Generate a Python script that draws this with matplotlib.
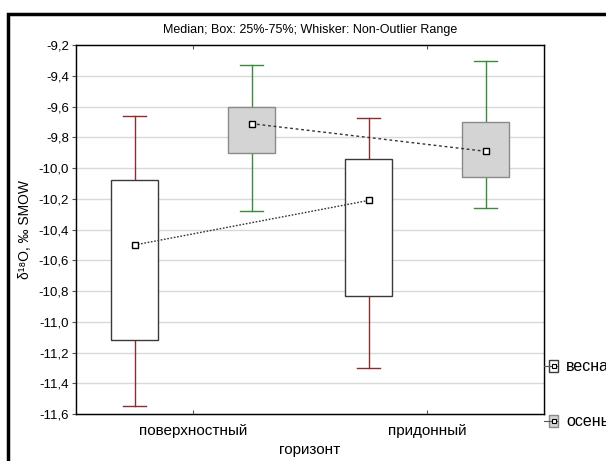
import matplotlib
matplotlib.use("Agg")
import matplotlib.pyplot as plt
from matplotlib.patches import Rectangle
from matplotlib.lines import Line2D
from matplotlib.ticker import FuncFormatter
import numpy as np

plt.rcParams['font.family'] = ['Liberation Sans', 'DejaVu Sans']

# data (δ18O, ‰ SMOW)
categories = ["поверхностный", "придонный"]
series = ["весна", "осень"]
spring_median = [-10.50, -10.21]
spring_q1 = [-11.12, -10.83]
spring_q3 = [-10.08, -9.94]
spring_low = [-11.55, -11.30]
spring_high = [-9.66, -9.675]
autumn_median = [-9.71, -9.89]
autumn_q1 = [-9.90, -10.06]
autumn_q3 = [-9.60, -9.70]
autumn_low = [-10.28, -10.26]
autumn_high = [-9.33, -9.30]

styles = {
    "весна": dict(face="white", edge="#3a3a3a", whisk="#8a2e2e", ls=(0, (1.2, 1.2)), off=-0.25),
    "осень": dict(face="#d4d4d4", edge="#8a8a8a", whisk="#3c8a3c", ls=(0, (2, 2)), off=0.25),
}
stats = {
    "весна": (spring_median, spring_q1, spring_q3, spring_low, spring_high),
    "осень": (autumn_median, autumn_q1, autumn_q3, autumn_low, autumn_high),
}

fig = plt.figure(figsize=(6.06, 4.61), dpi=100)
ax = fig.add_axes([76 / 606, 1 - 414 / 461, (544 - 76) / 606, (414 - 45.3) / 461])

box_w = 0.2
cap_w = 0.1
xpos = np.arange(1, len(categories) + 1)

for name in series:
    st = styles[name]
    med, q1, q3, lo, hi = stats[name]
    xs = xpos + st["off"]
    for x, m, a, b, l, h in zip(xs, med, q1, q3, lo, hi):
        ax.plot([x, x], [b, h], color=st["whisk"], lw=1, zorder=2)
        ax.plot([x, x], [l, a], color=st["whisk"], lw=1, zorder=2)
        ax.plot([x - cap_w / 2, x + cap_w / 2], [h, h], color=st["whisk"], lw=1, zorder=2)
        ax.plot([x - cap_w / 2, x + cap_w / 2], [l, l], color=st["whisk"], lw=1, zorder=2)
        ax.add_patch(Rectangle((x - box_w / 2, a), box_w, b - a, facecolor=st["face"],
                               edgecolor=st["edge"], lw=1, zorder=3))
    ax.plot(xs, med, color="#333333", lw=1, ls=st["ls"], zorder=4)
    ax.plot(xs, med, ls="none", marker="s", ms=5, mfc="white", mec="black", mew=1, zorder=5)

ax.set_xlim(0.5, 2.5)
ax.set_ylim(-11.6, -9.2)
yt = np.arange(-11.6, -9.19, 0.2)
ax.set_yticks(yt)
ax.yaxis.set_major_formatter(FuncFormatter(lambda v, p: f"{v:.1f}".replace(".", ",")))
ax.set_xticks(xpos)
ax.set_xticklabels(categories, fontsize=11)
ax.tick_params(axis="y", direction="out", length=3, labelsize=9.5, pad=2, color="#555555")
ax.tick_params(axis="x", direction="in", length=3, top=True, pad=7, color="#555555")
ax.grid(axis="y", color="#d9d9d9", lw=1)
ax.set_axisbelow(True)
for s in ax.spines.values():
    s.set_color("black")
    s.set_linewidth(1)

# right axis with inward ticks (13 divisions, no labels)
ax2 = ax.twinx()
ax2.set_ylim(0, 13)
ax2.set_yticks(np.arange(1, 13))
ax2.tick_params(axis="y", direction="in", length=3, labelright=False, color="#555555")
ax2.set_zorder(-1)

ax.set_ylabel("δ¹⁸O, ‰ SMOW", fontsize=10, labelpad=5)
ax.set_xlabel("горизонт", fontsize=11, labelpad=4)
fig.text(310 / 606, 1 - 30 / 461, "Median; Box: 25%-75%; Whisker: Non-Outlier Range",
         ha="center", va="center", fontsize=9)

# legend at the right edge, clipped by the figure edge as in the reference
for name, yy in zip(series, [366, 421]):
    st = styles[name]
    fig.add_artist(Line2D([544 / 606, 557 / 606], [1 - yy / 461] * 2, color="#555555", lw=0.8))
    fig.add_artist(Rectangle((549 / 606, 1 - (yy + 6) / 461), 9 / 606, 12 / 461,
                             facecolor=st["face"], edgecolor=st["edge"], lw=1))
    fig.add_artist(Line2D([553.5 / 606], [1 - yy / 461], marker="s", ms=3.5,
                          mfc="white", mec="black", mew=0.8))
    fig.text(566 / 606, 1 - yy / 461, name, ha="left", va="center", fontsize=11.5)

# outer frame
fig.add_artist(Rectangle((8 / 606, -0.1), 1.2, 1 - 14 / 461 + 0.1, fill=False,
                         edgecolor="black", lw=2.5, transform=fig.transFigure))

fig.savefig("out.png", dpi=100)
